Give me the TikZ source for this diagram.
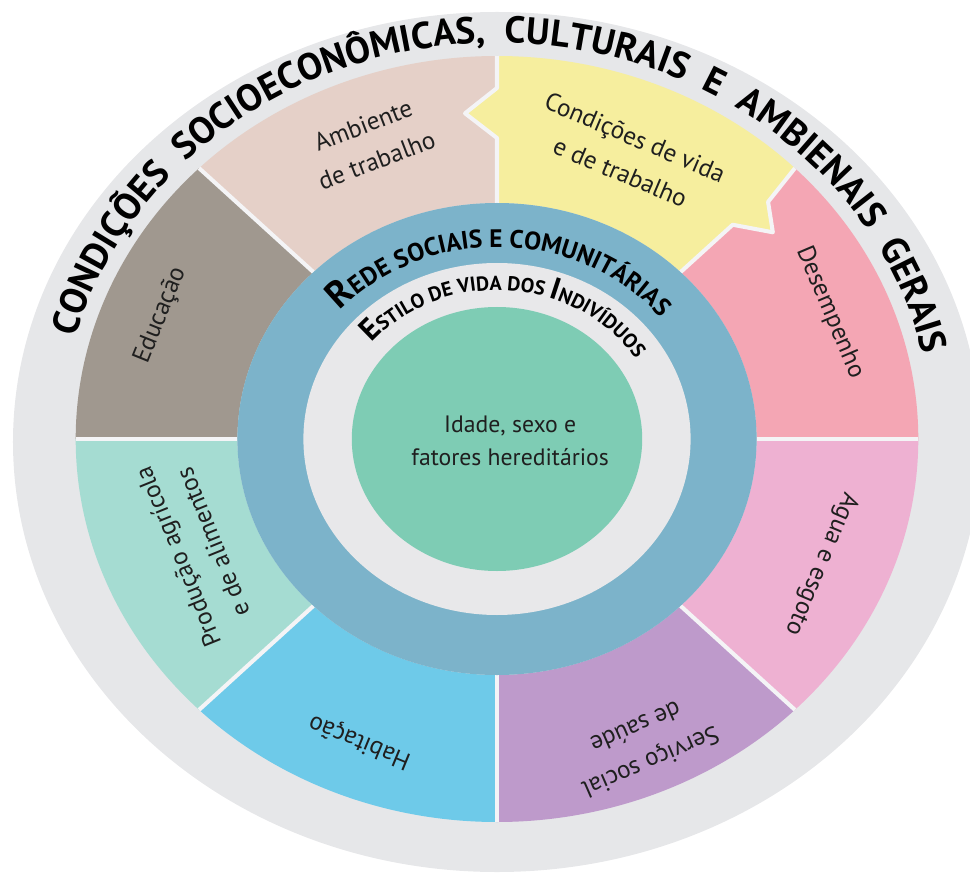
\documentclass[tikz,border=0pt]{standalone}
\usepackage{fontspec}
\setmainfont{PT Sans}
\usetikzlibrary{decorations.text}

\definecolor{ringgrey}{HTML}{E6E7E9}
\definecolor{gapwhite}{HTML}{F4F4F6}
\definecolor{ambcol}{HTML}{E5D0C8}
\definecolor{condcol}{HTML}{F6EE9E}
\definecolor{desempcol}{HTML}{F4A6B4}
\definecolor{aguacol}{HTML}{EEB1D2}
\definecolor{servcol}{HTML}{BE9ACB}
\definecolor{habitcol}{HTML}{6ECAE9}
\definecolor{prodcol}{HTML}{A5DCD2}
\definecolor{educcol}{HTML}{A0988F}
\definecolor{redecol}{HTML}{7CB3CA}
\definecolor{estilocol}{HTML}{E8E8EA}
\definecolor{idadecol}{HTML}{7ECCB4}

\begin{document}
\begin{tikzpicture}[x=0.02cm, y=0.02cm,
		sectxt/.style={align=center, text=black!88, font=\fontsize{14.3}{21.5}\selectfont},
		gap/.style={draw=gapwhite, line width=2.3pt}]
			\useasboundingbox (-497,-437) rectangle (473,439);

			% outer ring
			\fill[ringgrey]
				(0,-3) ellipse [x radius=484, y radius=430];

			\begin{scope}[xscale=1.1]
			% sectors
			\fill[desempcol]
				(0:236) -- (0:383) arc[start angle=0, end angle=45, radius=383] -- (45:236) arc[start angle=45, end angle=0, radius=236] -- cycle;
			\fill[ambcol]
				(90:236) -- (90:383) arc[start angle=90, end angle=135, radius=383] -- (135:236) arc[start angle=135, end angle=90, radius=236] -- cycle;
			\fill[educcol]
				(135:236) -- (135:383) arc[start angle=135, end angle=180, radius=383] -- (180:236) arc[start angle=180, end angle=135, radius=236] -- cycle;
			\fill[prodcol]
				(180:236) -- (180:383) arc[start angle=180, end angle=225, radius=383] -- (225:236) arc[start angle=225, end angle=180, radius=236] -- cycle;
			\fill[habitcol]
				(225:236) -- (225:383) arc[start angle=225, end angle=270, radius=383] -- (270:236) arc[start angle=270, end angle=225, radius=236] -- cycle;
			\fill[servcol]
				(270:236) -- (270:383) arc[start angle=270, end angle=315, radius=383] -- (315:236) arc[start angle=315, end angle=270, radius=236] -- cycle;
			\fill[aguacol]
				(315:236) -- (315:383) arc[start angle=315, end angle=360, radius=383] -- (360:236) arc[start angle=360, end angle=315, radius=236] -- cycle;

			% gaps between sectors
			\draw[gap] (0:236) -- (0:383);
			\draw[gap] (135:236) -- (135:383);
			\draw[gap] (180:236) -- (180:383);
			\draw[gap] (225:236) -- (225:383);
			\draw[gap] (270:236) -- (270:383);
			\draw[gap] (315:236) -- (315:383);

			% living and working conditions, with its two arrow tips
			\fill[condcol]
				(45:236) -- (45:303) -- (39.5:325) -- (43.9:342) -- (45:383)
				arc[start angle=45, end angle=90, radius=383]
				-- (90:351) -- (95.1:327) -- (90:301) -- (90:236)
				arc[start angle=90, end angle=45, radius=236] -- cycle;
			\draw[gap, line join=round]
				(45:236) -- (45:303) -- (39.5:325) -- (43.9:342) -- (45:383);
			\draw[gap, line join=round]
				(90:383) -- (90:351) -- (95.1:327) -- (90:301) -- (90:236);

			% inner rings
			\fill[redecol] (0,0) circle [radius=236];
			\fill[estilocol] (0,0) circle [radius=176];
			\fill[idadecol] (0,0) circle [radius=132];

			% sector texts
			\node[sectxt, rotate=21] (amb) at (111.3:318)
				{Ambiente\\de trabalho};
			\node[sectxt, rotate=-23] (cond) at (67.3:308)
				{Condições de vida\\e de trabalho};
			\node[sectxt, rotate=-67] (desemp) at (22.7:328)
				{Desempenho};
			\node[sectxt, rotate=-113] (agua) at (-23:320)
				{Agua e esgoto};
			\node[sectxt, rotate=-156.5] (serv) at (-66.5:334)
				{Serviço social\\de saúde};
			\node[sectxt, rotate=157.6] (habit) at (-112.4:327)
				{Habitação};
			\node[sectxt, rotate=112] (prod) at (202:296)
				{Produção agrícola\\e de alimentos};
			\node[sectxt, rotate=68] (educ) at (158:330)
				{Educação};

			% centre
			\node[sectxt, font=\fontsize{13.5}{18.5}\selectfont] (ctr) at (12,-2)
				{Idade, sexo e\\fatores hereditários};
			\end{scope}

			% texts along the rings
			\path[decorate, decoration={text along path, text align=center,
				text={|\bfseries\fontsize{21.3}{24}\selectfont|CONDIÇÕES\ \ SOCIOECONÔMICAS,\ \ CULTURAIS\ \ E\ \ AMBIENAIS\ \ GERAIS}}]
				(195:436 and 396) arc[start angle=195, end angle=-17.5, x radius=436, y radius=396];
			\path[decorate, decoration={text along path, text align=center,
				text={|\bfseries\fontsize{21.5}{22}\selectfont|R|\bfseries\fontsize{14.4}{15}\selectfont|EDE SOCIAIS E COMUNITÁRIAS}}]
				(178:211 and 192) arc[start angle=178, end angle=-1, x radius=211, y radius=192];
			\path[decorate, decoration={text along path, text align=center,
				text={|\bfseries\fontsize{17.5}{18}\selectfont|E|\bfseries\fontsize{11.5}{12}\selectfont|STILO DE VIDA DOS |\bfseries\fontsize{17.5}{18}\selectfont|I|\bfseries\fontsize{11.5}{12}\selectfont|NDIVÍDUOS}}]
				(176:164 and 149) arc[start angle=176, end angle=-4, x radius=164, y radius=149];

		\end{tikzpicture}
\end{document}
